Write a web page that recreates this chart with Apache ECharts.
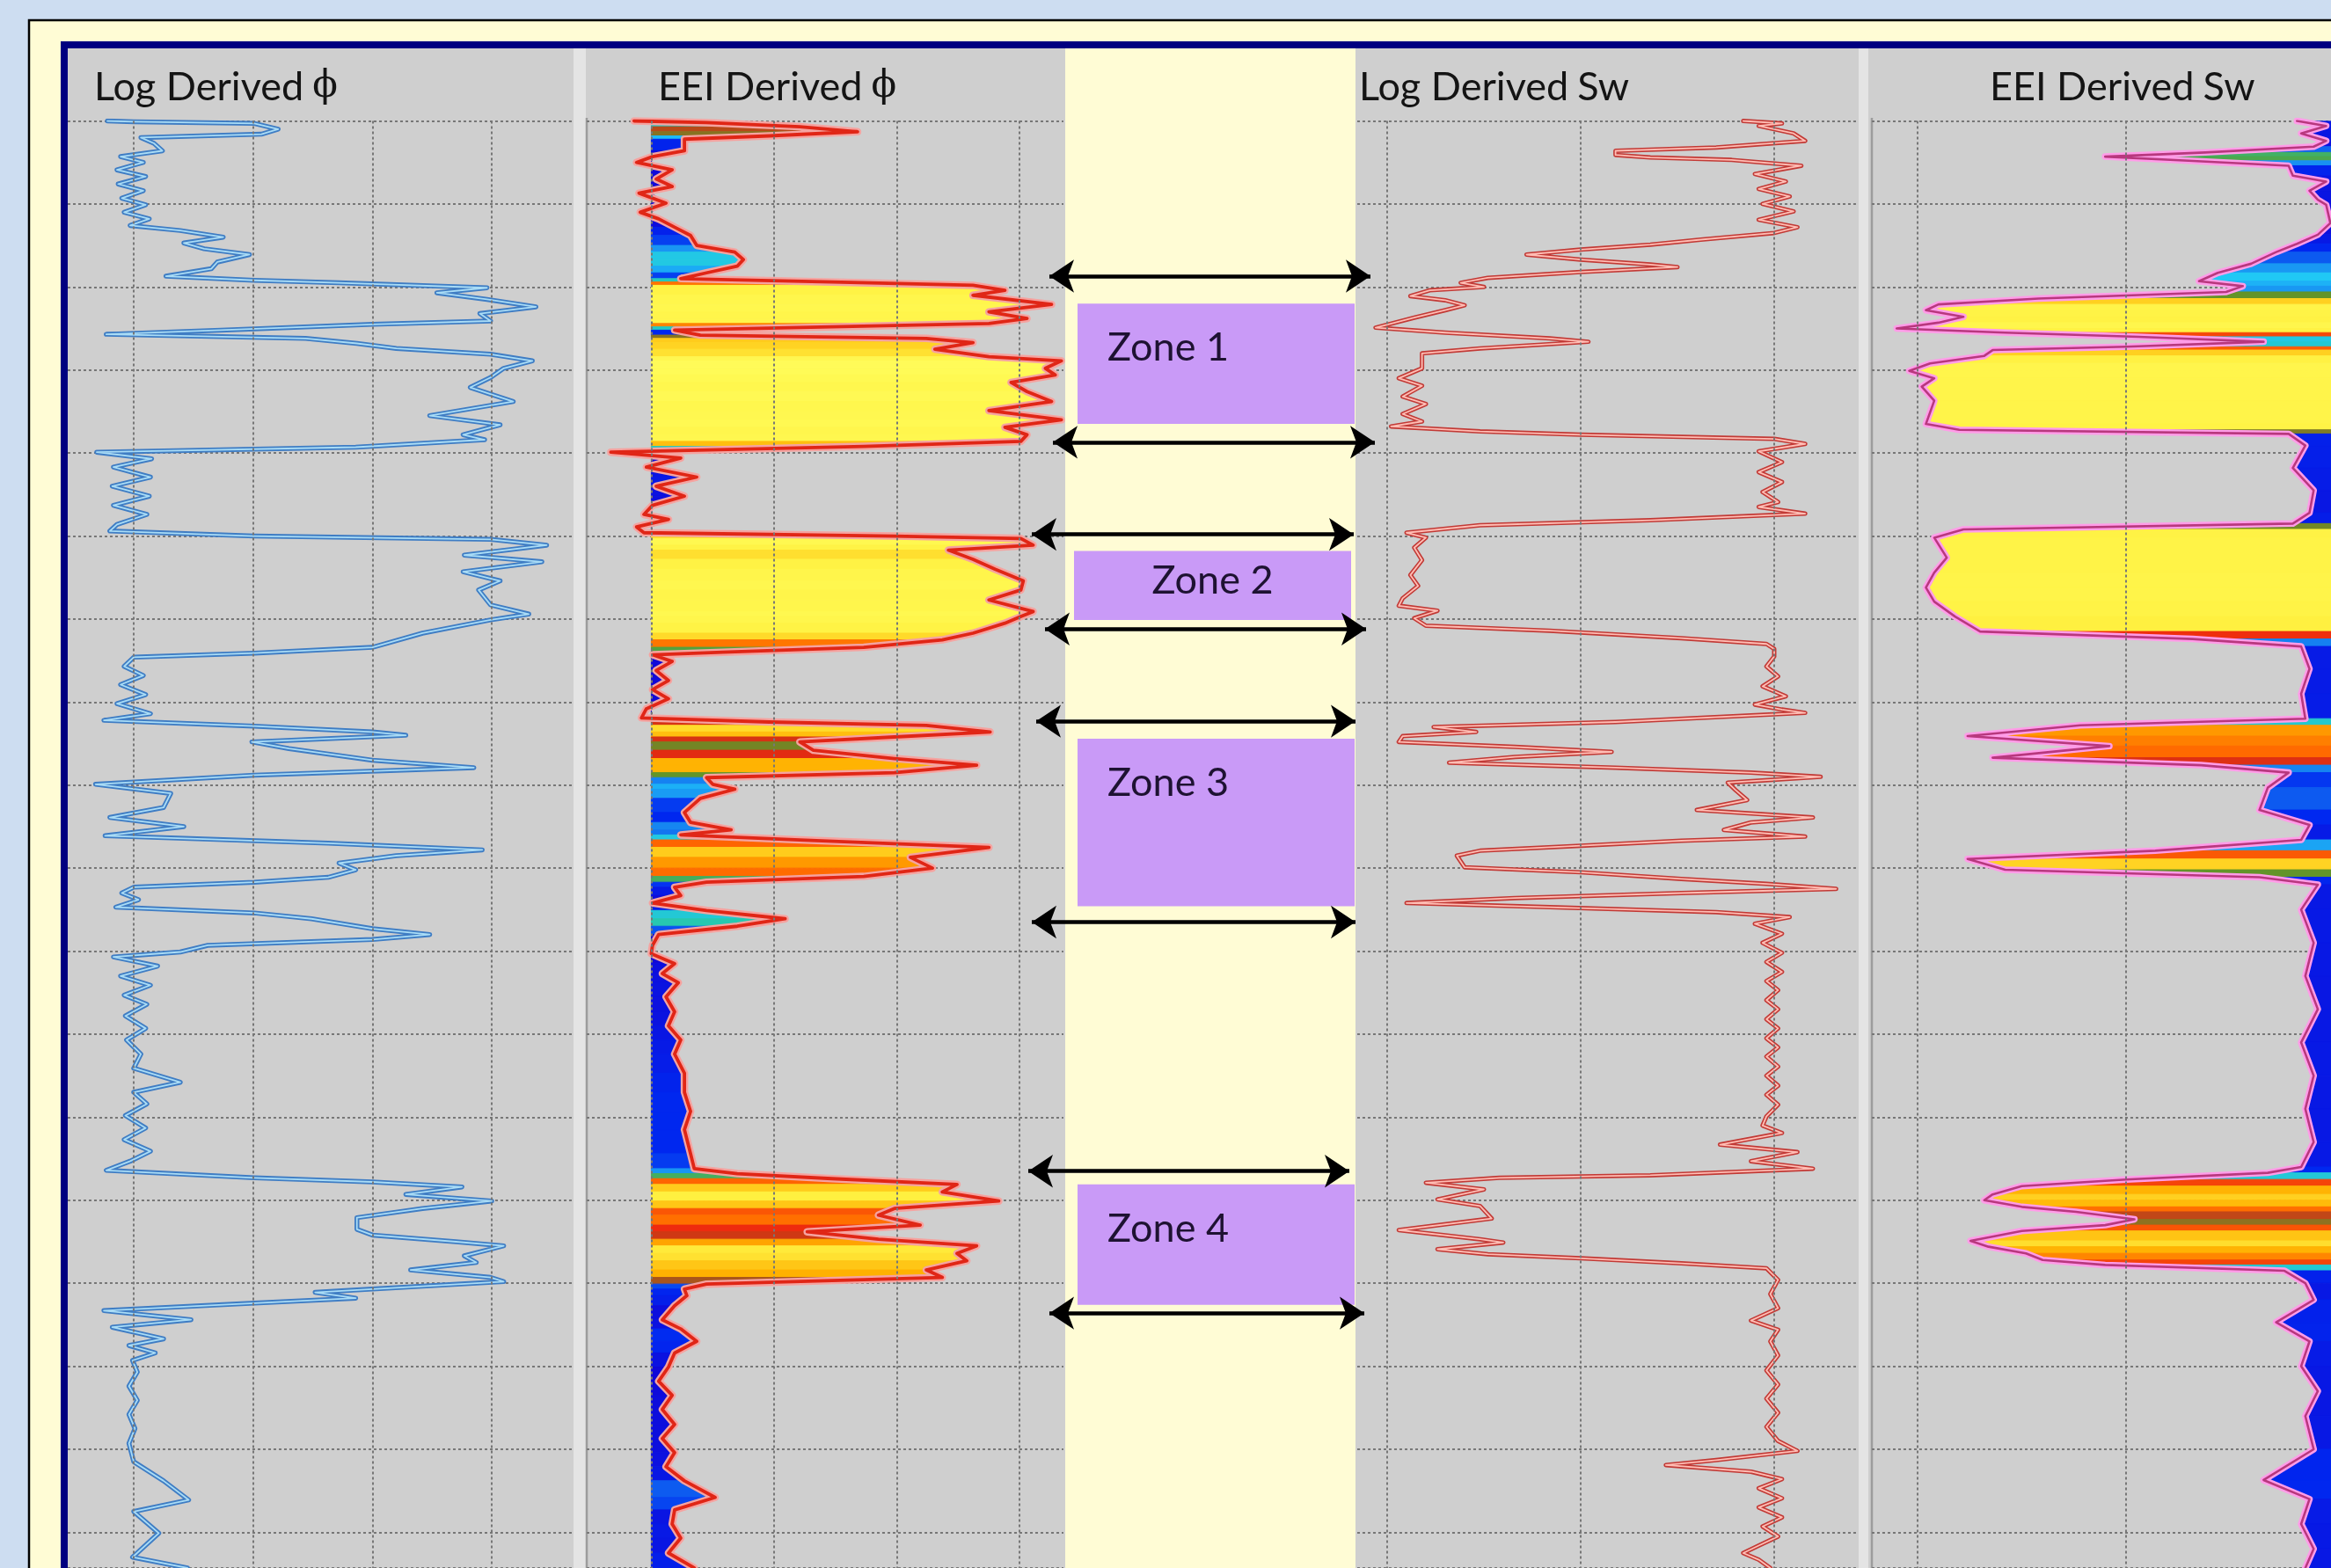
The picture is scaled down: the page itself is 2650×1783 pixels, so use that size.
<!DOCTYPE html>
<html><head><meta charset="utf-8">
<script src="https://cdn.jsdelivr.net/npm/echarts@6/dist/echarts.min.js"></script>
<style>html,body{margin:0;padding:0;background:#CDDDF1;overflow:hidden}#c{width:2650px;height:1783px}</style>
</head><body><div id="c"></div>
<script>
// ---------------- DATA (depth in grid divisions from top of log, value in track units) ----------------
// Track 1: log-derived porosity (grid divisions, gridlines at 0,1,2,3)
const logPhi = [[0.00,-0.22],[0.01,0],[0.03,1.01],[0.10,1.21],[0.16,1.07],[0.20,0.06],[0.27,0.17],[0.36,0.24],[0.43,-0.11],[0.50,0.08],[0.59,-0.14],[0.67,0.10],[0.76,-0.13],[0.84,0.08],[0.93,-0.10],[1.01,0.10],[1.10,-0.08],[1.18,0.13],[1.26,-0.03],[1.32,0.39],[1.40,0.75],[1.47,0.42],[1.54,0.59],[1.61,0.97],[1.70,0.70],[1.78,0.65],[1.87,0.27],[1.92,1.01],[1.95,1.72],[2.01,2.96],[2.07,2.54],[2.15,2.96],[2.24,3.37],[2.32,2.90],[2.41,2.99],[2.45,2.00],[2.52,0.73],[2.57,-0.23],[2.62,1.44],[2.68,1.87],[2.74,2.20],[2.81,2.99],[2.89,3.34],[2.98,3.10],[3.09,2.99],[3.21,2.82],[3.38,3.18],[3.55,2.48],[3.66,3.07],[3.78,2.76],[3.84,2.94],[3.93,1.86],[3.99,-0.31],[4.07,0.15],[4.17,-0.17],[4.29,0.14],[4.40,-0.18],[4.52,0.13],[4.63,-0.17],[4.74,0.11],[4.86,-0.14],[4.94,-0.20],[5.00,1.01],[5.04,2.99],[5.11,3.46],[5.23,2.77],[5.31,3.42],[5.43,2.76],[5.54,3.07],[5.65,2.89],[5.83,2.99],[5.94,3.31],[6.01,2.99],[6.17,2.42],[6.34,2.00],[6.41,1.01],[6.46,0.00],[6.57,-0.08],[6.68,0.08],[6.79,-0.11],[6.91,0.10],[7.02,-0.14],[7.14,0.14],[7.22,-0.25],[7.29,1.01],[7.36,2.00],[7.40,2.28],[7.48,0.99],[7.56,1.30],[7.70,2.00],[7.79,2.85],[7.88,1.01],[7.99,-0.32],[8.10,0.31],[8.27,0.25],[8.39,-0.20],[8.50,0.42],[8.61,-0.24],[8.70,1.63],[8.78,2.92],[8.85,2.20],[8.94,1.72],[9.02,1.86],[9.11,1.63],[9.17,1.01],[9.23,0],[9.30,-0.10],[9.38,0.04],[9.47,-0.15],[9.54,1.01],[9.61,1.49],[9.73,2.00],[9.80,2.48],[9.86,2.00],[9.93,0.62],[10.01,0.39],[10.07,-0.17],[10.18,0.20],[10.30,-0.11],[10.41,0.14],[10.53,-0.08],[10.64,0.11],[10.78,-0.07],[10.93,0.10],[11.07,-0.06],[11.24,0.06],[11.41,0],[11.58,0.39],[11.70,0],[11.84,0.11],[11.98,-0.07],[12.13,0.10],[12.27,-0.08],[12.41,0.14],[12.53,-0.03],[12.64,-0.23],[12.73,1.01],[12.78,2.00],[12.84,2.75],[12.93,2.28],[13.01,3.00],[13.10,2.42],[13.21,1.87],[13.35,1.87],[13.42,2.00],[13.50,2.70],[13.55,3.10],[13.67,2.77],[13.75,2.87],[13.84,2.32],[13.93,2.99],[13.98,3.10],[14.07,2.00],[14.11,1.52],[14.18,1.86],[14.24,1.01],[14.33,-0.25],[14.44,0.48],[14.53,-0.18],[14.67,0.25],[14.75,-0.04],[14.84,0.18],[14.93,-0.01],[15.07,0.03],[15.24,-0.04],[15.41,0.03],[15.58,-0.04],[15.75,0.01],[15.93,-0.04],[16.15,0],[16.38,0.25],[16.61,0.46],[16.75,0],[17.01,0.21],[17.30,-0.01],[17.43,0.45]];

// Track 2: EEI-derived porosity (grid divisions, baseline 0)
const eeiPhi = [[0,-0.14],[0.02,0.45],[0.07,1.21],[0.13,1.68],[0.18,0.96],[0.22,0.27],[0.36,0.27],[0.43,0.01],[0.50,-0.12],[0.59,0.17],[0.70,0.04],[0.79,0.17],[0.87,-0.10],[0.99,0.12],[1.10,-0.09],[1.18,0.06],[1.28,0.19],[1.38,0.32],[1.50,0.37],[1.58,0.68],[1.67,0.75],[1.75,0.70],[1.83,0.45],[1.90,0.24],[1.94,1.47],[1.98,2.62],[2.04,2.88],[2.10,2.62],[2.21,3.26],[2.30,2.75],[2.38,3.06],[2.44,2.75],[2.48,1.47],[2.52,0.19],[2.58,0.40],[2.62,2.24],[2.67,2.62],[2.75,2.31],[2.84,2.75],[2.89,3.34],[2.98,3.21],[3.06,3.29],[3.15,2.93],[3.26,3.06],[3.38,3.26],[3.49,2.75],[3.60,3.34],[3.69,2.88],[3.78,3.06],[3.86,3.01],[3.92,1.73],[3.99,-0.33],[4.06,0.24],[4.17,-0.04],[4.29,0.37],[4.40,0.04],[4.52,0.27],[4.63,0.01],[4.74,-0.06],[4.80,0.14],[4.89,-0.12],[4.96,-0.06],[5.00,1.98],[5.03,3.01],[5.11,3.11],[5.17,2.42],[5.28,2.62],[5.40,2.80],[5.54,3.03],[5.65,3.01],[5.77,2.75],[5.91,3.11],[5.97,3.01],[6.05,2.88],[6.17,2.62],[6.25,2.37],[6.34,1.73],[6.40,0.58],[6.43,0.01],[6.51,0.17],[6.62,0.04],[6.74,0.14],[6.85,0.01],[6.96,0.14],[7.08,-0.04],[7.19,-0.08],[7.24,0.96],[7.28,2.24],[7.36,2.76],[7.42,1.98],[7.48,1.21],[7.58,1.32],[7.68,1.98],[7.76,2.65],[7.85,1.98],[7.91,0.45],[7.99,0.50],[8.05,0.68],[8.16,0.40],[8.33,0.27],[8.45,0.32],[8.54,0.65],[8.60,0.24],[8.66,1.21],[8.75,2.75],[8.87,2.11],[9.00,2.29],[9.10,1.73],[9.17,0.45],[9.23,0.19],[9.33,0.24],[9.42,0.01],[9.51,0.45],[9.61,1.09],[9.70,0.70],[9.80,0.06],[9.93,0.01],[10.03,0],[10.15,0.19],[10.27,0.09],[10.38,0.22],[10.55,0.12],[10.73,0.19],[10.90,0.14],[11.07,0.24],[11.24,0.19],[11.47,0.27],[11.70,0.27],[11.93,0.32],[12.15,0.27],[12.44,0.32],[12.62,0.35],[12.68,0.70],[12.74,1.47],[12.81,2.49],[12.90,2.37],[13.01,2.83],[13.10,1.98],[13.18,1.85],[13.30,2.19],[13.38,1.27],[13.47,1.85],[13.55,2.65],[13.64,2.49],[13.73,2.57],[13.84,2.24],[13.93,2.37],[14.01,0.45],[14.07,0.27],[14.15,0.29],[14.27,0.19],[14.44,0.09],[14.55,0.24],[14.70,0.37],[14.84,0.19],[15.01,0.14],[15.18,0.06],[15.35,0.17],[15.52,0.09],[15.70,0.19],[15.87,0.09],[16.04,0.19],[16.21,0.12],[16.38,0.27],[16.58,0.52],[16.73,0.19],[16.90,0.17],[17.07,0.24],[17.25,0.14],[17.43,0.35]];

// Track 3: log-derived water saturation (fraction)
const logSw = [[0,0.92],[0.03,1.02],[0.06,0.96],[0.15,1.05],[0.24,1.08],[0.32,0.85],[0.36,0.59],[0.41,0.59],[0.44,0.68],[0.47,0.89],[0.54,1.07],[0.64,0.95],[0.73,1.03],[0.82,0.96],[0.91,1.04],[1.00,0.97],[1.09,1.05],[1.19,0.96],[1.28,1.06],[1.35,1.00],[1.43,0.81],[1.49,0.68],[1.55,0.50],[1.61,0.36],[1.67,0.50],[1.73,0.68],[1.76,0.75],[1.82,0.50],[1.89,0.26],[1.95,0.19],[2.00,0.25],[2.04,0.11],[2.11,0.06],[2.16,0.15],[2.22,0.20],[2.28,0.15],[2.37,0.07],[2.49,-0.03],[2.55,0.15],[2.62,0.42],[2.66,0.52],[2.74,0.24],[2.80,0.09],[2.86,0.09],[2.98,0.09],[3.10,0.03],[3.19,0.09],[3.32,0.04],[3.41,0.10],[3.53,0.04],[3.62,0.09],[3.68,0.01],[3.74,0.24],[3.78,0.50],[3.83,1.00],[3.89,1.08],[3.98,0.96],[4.11,1.02],[4.23,0.96],[4.35,1.02],[4.47,0.97],[4.59,1.01],[4.65,0.96],[4.73,1.08],[4.81,0.68],[4.87,0.24],[4.96,0.05],[5.02,0.10],[5.14,0.07],[5.29,0.09],[5.47,0.06],[5.60,0.08],[5.75,0.04],[5.84,0.03],[5.90,0.13],[5.99,0.07],[6.08,0.10],[6.14,0.42],[6.23,0.76],[6.30,0.98],[6.36,1.00],[6.45,1.00],[6.57,0.98],[6.69,1.01],[6.81,0.97],[6.93,1.03],[7.03,0.95],[7.09,1.02],[7.13,1.08],[7.24,0.59],[7.30,0.12],[7.36,0.23],[7.41,0.04],[7.48,0.03],[7.54,0.33],[7.60,0.58],[7.66,0.33],[7.73,0.16],[7.79,0.59],[7.85,0.94],[7.90,1.12],[7.97,0.88],[8.06,0.90],[8.18,0.93],[8.30,0.80],[8.39,1.10],[8.45,0.94],[8.54,0.87],[8.62,1.08],[8.67,0.76],[8.73,0.50],[8.79,0.24],[8.85,0.18],[8.99,0.20],[9.05,0.50],[9.13,0.76],[9.19,0.98],[9.25,1.16],[9.30,0.76],[9.36,0.33],[9.42,0.05],[9.47,0.42],[9.53,0.85],[9.59,1.04],[9.67,0.95],[9.79,1.02],[9.90,0.97],[10.02,1.02],[10.13,0.98],[10.25,1.02],[10.36,0.98],[10.47,1.01],[10.59,0.98],[10.70,1.01],[10.82,0.98],[10.93,1.01],[11.05,0.98],[11.16,1.01],[11.27,0.98],[11.39,1.01],[11.50,0.98],[11.62,1.01],[11.73,0.98],[11.85,1.01],[11.99,0.98],[12.10,0.97],[12.19,1.02],[12.33,0.86],[12.42,1.06],[12.53,0.94],[12.62,1.10],[12.70,0.68],[12.73,0.29],[12.79,0.10],[12.87,0.25],[12.99,0.13],[13.07,0.24],[13.22,0.27],[13.36,0.03],[13.47,0.24],[13.51,0.30],[13.59,0.13],[13.65,0.26],[13.70,0.50],[13.76,0.76],[13.82,0.98],[13.96,1.01],[14.13,0.99],[14.30,1.01],[14.45,0.94],[14.56,1.01],[14.70,0.99],[14.87,1.01],[15.05,0.98],[15.22,1.01],[15.39,0.98],[15.56,1.01],[15.73,0.98],[15.90,1.01],[16.02,1.06],[16.13,0.85],[16.19,0.72],[16.27,0.94],[16.36,1.02],[16.47,0.96],[16.59,1.02],[16.70,0.96],[16.82,1.02],[16.93,0.97],[17.05,1.01],[17.16,0.96],[17.25,0.92],[17.33,0.96],[17.43,0.99]];

// Track 4: EEI-derived water saturation (fraction, fill from Sw = 1)
const eeiSw = [[0,0.91],[0.06,0.98],[0.15,0.92],[0.24,0.98],[0.31,0.95],[0.38,0.69],[0.43,0.45],[0.48,0.65],[0.54,0.89],[0.66,0.90],[0.73,0.98],[0.84,0.94],[0.95,0.96],[1.01,0.98],[1.23,0.99],[1.37,0.96],[1.48,0.91],[1.58,0.86],[1.72,0.80],[1.83,0.72],[1.93,0.675],[1.99,0.78],[2.06,0.74],[2.14,0.29],[2.21,0.05],[2.28,0.02],[2.36,0.11],[2.43,0.05],[2.50,-0.05],[2.55,0.21],[2.60,0.53],[2.66,0.83],[2.72,0.50],[2.76,0.18],[2.83,0.16],[2.92,0.03],[3.01,-0.02],[3.10,0.04],[3.20,0.01],[3.37,0.04],[3.65,0.02],[3.72,0.10],[3.77,0.89],[3.91,0.93],[4.18,0.90],[4.45,0.95],[4.72,0.94],[4.85,0.90],[4.92,0.11],[5.02,0.04],[5.26,0.07],[5.44,0.04],[5.62,0.02],[5.79,0.04],[5.97,0.09],[6.15,0.15],[6.24,0.66],[6.33,0.92],[6.60,0.94],[6.90,0.92],[7.20,0.93],[7.28,0.39],[7.41,0.12],[7.53,0.46],[7.67,0.18],[7.76,0.68],[7.85,0.89],[8.03,0.84],[8.30,0.82],[8.48,0.94],[8.66,0.92],[8.79,0.57],[8.89,0.12],[9.02,0.21],[9.11,0.82],[9.20,0.96],[9.50,0.92],[9.90,0.95],[10.30,0.93],[10.70,0.96],[11.10,0.92],[11.50,0.95],[11.90,0.93],[12.30,0.95],[12.60,0.92],[12.67,0.84],[12.75,0.50],[12.83,0.25],[12.93,0.18],[13.00,0.16],[13.08,0.25],[13.14,0.38],[13.23,0.52],[13.30,0.45],[13.37,0.25],[13.49,0.127],[13.56,0.17],[13.64,0.26],[13.72,0.30],[13.78,0.45],[13.85,0.88],[14.00,0.93],[14.20,0.95],[14.47,0.86],[14.70,0.94],[15.00,0.92],[15.30,0.96],[15.60,0.93],[16.00,0.95],[16.37,0.83],[16.60,0.94],[16.90,0.92],[17.20,0.95],[17.43,0.93]];

// Zones
const zoneNames = ['Zone 1','Zone 2','Zone 3','Zone 4'];
const zoneTop = [2.20, 5.18, 7.44, 12.81];
const zoneBottom = [3.65, 6.01, 9.46, 14.26];
const zoneBoundaries = [1.87, 3.87, 4.98, 6.12, 7.23, 9.65, 12.65, 14.36];
const trackTitles = [['Log Derived','\u03D5'],['EEI Derived','\u03D5'],['Log Derived','Sw'],['EEI Derived','Sw']];

// ---------------- LAYOUT / STYLE ----------------
const W = 2650, H = 1783, GRID_TOP = 137.5, DEPTH_MAX = 17.43;
const TRACKS = [
  {left:77,  width:575, min:-0.553, max:3.685, vlines:[0,1,2,3]},
  {left:667, width:542, min:-0.526, max:3.357, vlines:[0,1,2,3]},
  {left:1543,width:568, min:-0.0773,max:1.2136,vlines:[0,0.5,1]},
  {left:2128,width:522, min:-0.1097,max:0.9916,vlines:[0,0.5]},
  {left:1150,width:430, min:1150, max:1580, vlines:[]}
];
const ARROW_X = [[1193,1558],[1197,1563],[1173,1539],[1188,1553],[1178,1541],[1173,1541],[1169,1534],[1193,1551]];
const ZONE_X = [[1225,1540],[1221,1536],[1225,1540],[1225,1540]];
const TITLE_X = [107, 748, 1545, 2262];
const FONT = 'Lato, "Open Sans", sans-serif';
const GRIDLINE = {color:'#777777', type:[3,3], width:2};

function ramp(stops){
  const s = stops.map(([v,c])=>[v,parseInt(c.slice(1,3),16),parseInt(c.slice(3,5),16),parseInt(c.slice(5,7),16)]);
  return function(x){
    if (x <= s[0][0]) return `rgb(${s[0][1]},${s[0][2]},${s[0][3]})`;
    for (let i=1;i<s.length;i++){
      if (x <= s[i][0]){
        const t=(x-s[i-1][0])/(s[i][0]-s[i-1][0]);
        const c=[1,2,3].map(k=>Math.round(s[i-1][k]+(s[i][k]-s[i-1][k])*t));
        return `rgb(${c[0]},${c[1]},${c[2]})`;
      }
    }
    const l=s[s.length-1]; return `rgb(${l[1]},${l[2]},${l[3]})`;
  };
}
const phiRamp = ramp([[-0.2,'#3010B0'],[0.1,'#1008D8'],[0.3,'#0028F0'],[0.45,'#1478F0'],[0.65,'#20C8F8'],[0.95,'#28C8A0'],[1.2,'#5C9A2A'],[1.45,'#B84818'],[1.7,'#EC2410'],[2.0,'#FF6A00'],[2.3,'#FFB000'],[2.6,'#FFF040'],[3.5,'#FFFF60']]);
const swRamp = ramp([[-0.2,'#FFFF60'],[0.12,'#FFF040'],[0.22,'#FFB000'],[0.32,'#FF6A00'],[0.42,'#EC2410'],[0.52,'#5C9A2A'],[0.62,'#28C8A0'],[0.7,'#20C8F8'],[0.8,'#1478F0'],[0.88,'#0028F0'],[1.0,'#1008D8']]);

function segments(curve){
  const out=[]; for(let i=0;i<curve.length-1;i++) out.push([curve[i][0],curve[i][1],curve[i+1][0],curve[i+1][1]]); return out;
}
function fillRenderer(base, side, colorFn){
  return function(params, api){
    const d0=api.value(0), d1=api.value(2);
    let v0=api.value(1), v1=api.value(3);
    if (side>0){ v0=Math.max(v0,base); v1=Math.max(v1,base); } else { v0=Math.min(v0,base); v1=Math.min(v1,base); }
    const pts=[api.coord([base,d0]),api.coord([v0,d0]),api.coord([v1,d1]),api.coord([base,d1])];
    const col=colorFn((v0+v1)/2);
    return {type:'polygon', shape:{points:pts}, style:{fill:col, stroke:col, lineWidth:1}};
  };
}
const toXY = c => c.map(([d,v])=>[v,d]);
function vlineMark(i){
  return {silent:true, symbol:['none','none'], label:{show:false}, lineStyle:GRIDLINE, emphasis:{disabled:true}, data:TRACKS[i].vlines.map(v=>({xAxis:v}))};
}
function lineSeries(i, data, color, width, mark){
  const s = {type:'line', xAxisIndex:i, yAxisIndex:i, data:toXY(data), showSymbol:false, symbol:'none', silent:true,
    lineStyle:{color, width, join:'round', cap:'round'}, z:3};
  if (mark) s.markLine = vlineMark(i);
  return s;
}

const grids = TRACKS.map(t=>({left:t.left, width:t.width, top:GRID_TOP, bottom:0, containLabel:false}));
const xAxes = TRACKS.map((t,i)=>({type:'value', gridIndex:i, min:t.min, max:t.max, show:true,
  axisLine:{show:false}, axisTick:{show:false}, axisLabel:{show:false}, splitLine:{show:false}}));
const yAxes = TRACKS.map((t,i)=>({type:'value', gridIndex:i, inverse:true, min:0, max:DEPTH_MAX, interval:1,
  axisLine:{show:false}, axisTick:{show:false}, axisLabel:{show:false}, splitLine:{show:i<4, lineStyle:GRIDLINE}}));

const titles = trackTitles.map((t,i)=>({
  text: `{a|${t[0]}}  {${i<2?'p':'a'}|${t[1]}}`, left:TITLE_X[i], top:77, padding:0,
  textStyle:{fontWeight:'normal', rich:{
    a:{fontFamily:FONT, fontSize:45, fontWeight:'normal', color:'#141414'},
    p:{fontFamily:'"DejaVu Serif", serif', fontSize:42, fontWeight:'normal', color:'#141414'}}}
}));

const zoneArea = zoneNames.map((n,i)=>[
  {name:n, coord:[ZONE_X[i][0], zoneTop[i]],
   label: i===1 ? {position:'inside', offset:[0,-5]} : {position:'insideTopLeft', distance:0, offset:[34,28]}},
  {coord:[ZONE_X[i][1], zoneBottom[i]]}
]);
const arrows = zoneBoundaries.map((d,i)=>[{coord:[ARROW_X[i][0], d]},{coord:[ARROW_X[i][1], d]}]);

const bgRects = [
  {type:'rect', shape:{x:33,y:23,width:W,height:H}, style:{fill:'#FFFCD5', stroke:'#000', lineWidth:2.5}},
  {type:'rect', shape:{x:73,y:51,width:W,height:H}, style:{fill:'none', stroke:'#000080', lineWidth:8}},
  {type:'rect', shape:{x:77,y:55,width:575,height:H}, style:{fill:'#CFCFCF'}},
  {type:'rect', shape:{x:652,y:55,width:14,height:H}, style:{fill:'#E4E4E4'}},
  {type:'rect', shape:{x:666,y:55,width:545,height:H}, style:{fill:'#CFCFCF'}},
  {type:'rect', shape:{x:1541,y:55,width:572,height:H}, style:{fill:'#CFCFCF'}},
  {type:'rect', shape:{x:2113,y:55,width:11,height:H}, style:{fill:'#E4E4E4'}},
  {type:'rect', shape:{x:2124,y:55,width:600,height:H}, style:{fill:'#CFCFCF'}},
  {type:'line', shape:{x1:667,y1:134,x2:667,y2:H}, style:{stroke:'#9C9C9C', lineWidth:2.5}},
  {type:'line', shape:{x1:2128,y1:134,x2:2128,y2:H}, style:{stroke:'#9C9C9C', lineWidth:2.5}}
].map(e=>Object.assign(e,{z:-10, silent:true}));

const option = {
  animation:false,
  backgroundColor:'#CDDDF1',
  title: titles,
  graphic: bgRects,
  grid: grids, xAxis: xAxes, yAxis: yAxes,
  series: [
    lineSeries(0, logPhi, '#3F7DC4', 5.5, false),
    lineSeries(0, logPhi, '#A9DCF6', 1.8, true),
    {type:'custom', xAxisIndex:1, yAxisIndex:1, data:segments(eeiPhi), encode:{x:[1,3], y:[0,2]},
     renderItem:fillRenderer(0, 1, phiRamp), clip:true, silent:true, z:2},
    lineSeries(1, eeiPhi, '#F5A3A0', 8.5, false),
    lineSeries(1, eeiPhi, '#E02616', 3.8, true),
    lineSeries(2, logSw, '#C23A36', 5, false),
    lineSeries(2, logSw, '#FFBDB4', 1.8, true),
    {type:'custom', xAxisIndex:3, yAxisIndex:3, data:segments(eeiSw), encode:{x:[1,3], y:[0,2]},
     renderItem:fillRenderer(1.0, -1, swRamp), clip:true, silent:true, z:2},
    lineSeries(3, eeiSw, '#FF9CE8', 7.5, false),
    lineSeries(3, eeiSw, '#B8387E', 2.6, true),
    {type:'line', xAxisIndex:4, yAxisIndex:4, data:[], silent:true,
     markArea:{silent:true, itemStyle:{color:'#C99AF7', opacity:1},
       label:{show:true, color:'#1E1232', fontFamily:FONT, fontSize:45, fontWeight:'normal'},
       data: zoneArea},
     markLine:{silent:true, symbol:['arrow','arrow'], symbolSize:[28,28], label:{show:false},
       lineStyle:{color:'#000', width:4.5, type:'solid'}, emphasis:{disabled:true}, data: arrows}
    }
  ]
};
const chart = echarts.init(document.getElementById('c'), null, {width:W, height:H});
chart.setOption(option);
</script>
</body></html>
